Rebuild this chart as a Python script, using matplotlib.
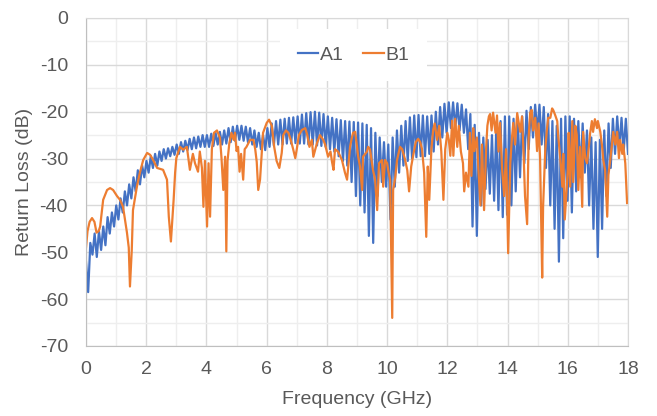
import numpy as np
import matplotlib
matplotlib.use("Agg")
import matplotlib.pyplot as plt
from matplotlib.ticker import MultipleLocator

# A1 : sommets et creux de l'ondulation, 7 par GHz
a1_peaks = [
    -52, -48, -46, -45.5, -44.5, -42.5, -41.5,
    -40, -38.5, -37, -35.5, -34, -32.5, -31.5,
    -30.5, -29.5, -29, -28.5, -28, -27.8, -27.5,
    -27, -26.5, -26.2, -25.8, -25.5, -25.3, -25,
    -25, -24.7, -24.5, -24.3, -24, -23.5, -23.2,
    -23, -23, -23.2, -23.5, -24, -24.5, -25,
    -23.5, -22.5, -22, -21.7, -21.5, -21.3, -21.2,
    -21, -20.6, -20.3, -20.1, -20, -20.2, -20.5,
    -21, -21.3, -21.6, -21.8, -22, -22.1, -22.2,
    -22.3, -22.5, -22.8, -23.5, -24.5, -25.5, -26.5,
    -27, -25.5, -24, -23, -22, -21.2, -20.8,
    -20.7, -20.8, -21, -20.8, -20, -19, -18.3,
    -18, -18, -18.2, -18.5, -19.5, -20.5, -22.8,
    -24.5, -25.5, -26, -25, -23.5, -22, -21,
    -21, -21.5, -22, -21, -19.8, -19, -18.5,
    -18.5, -19, -20.5, -22, -23, -21.5, -21,
    -21, -21.5, -22, -22.5, -24, -25.5, -26.5,
    -26, -24, -22.5, -21.5, -21, -21.3, -21.5,
]
a1_troughs = [
    -58.5, -50.5, -51, -49.5, -48.5, -46, -44.5,
    -43, -41.5, -40, -38.5, -37, -35.5, -34,
    -33, -32, -31.5, -30.5, -30, -29.5, -29.2,
    -29, -28.5, -28.2, -28, -27.8, -27.5, -27.5,
    -27.5, -27.3, -27, -27, -26.8, -26.5, -26.2,
    -26, -26.2, -26.5, -27, -27.5, -28, -28.2,
    -27.5, -27.2, -27, -27, -26.8, -26.8, -26.7,
    -26.8, -26.8, -27, -27, -27.2, -27.3, -27.5,
    -28, -28.5, -29.5, -30.5, -31.5, -35, -38,
    -40, -41.5, -46.5, -48, -38, -35, -36,
    -43, -36, -33, -31.5, -30.5, -30, -29.7,
    -29.5, -29.5, -29, -28.5, -27, -25.5, -24.5,
    -23.5, -23.5, -24, -24.5, -28, -44.5, -46.5,
    -40, -36.5, -37.5, -39, -41, -42.5, -42,
    -40, -37, -34, -31, -28, -25.5, -24.5,
    -27, -32, -40, -45, -52, -47, -39,
    -41.5, -37, -34, -33, -40, -45, -51,
    -45, -38, -32, -29, -28, -28.5, -29,
]

# B1 : frequence (GHz) et perte (dB)
b1_freq = [
    0.0, 0.05, 0.12, 0.2, 0.28, 0.35, 0.42, 0.47, 0.57, 0.7, 0.8, 0.9,
    1.03, 1.13, 1.23, 1.36, 1.42, 1.46, 1.52, 1.56, 1.69, 1.79, 1.9,
    2.03, 2.13, 2.23, 2.36, 2.56, 2.69, 2.75, 2.82, 2.91, 2.96,
    3.0, 3.12, 3.23, 3.35, 3.45, 3.55, 3.62, 3.72, 3.78, 3.85, 3.9, 3.95,
    4.02, 4.07, 4.12, 4.18, 4.25, 4.35, 4.45, 4.5, 4.56, 4.62, 4.66, 4.7,
    4.76, 4.83, 4.9, 4.95, 5.0, 5.05, 5.1, 5.15, 5.22, 5.27, 5.33, 5.45,
    5.56, 5.62, 5.67, 5.72, 5.78, 5.83, 5.88, 6.0, 6.08, 6.17, 6.25,
    6.33, 6.42, 6.5, 6.55, 6.64, 6.72, 6.8, 6.88, 6.95, 7.0, 7.07, 7.17,
    7.28, 7.35, 7.42, 7.5, 7.55, 7.67, 7.77, 7.88, 7.94, 8.04, 8.12,
    8.17, 8.22, 8.27, 8.37, 8.5, 8.6, 8.67, 8.77, 8.82, 8.87, 8.94,
    9.04, 9.1, 9.17, 9.2, 9.33, 9.37, 9.43, 9.53, 9.6, 9.67, 9.73, 9.83,
    9.87, 9.93, 10.0, 10.05, 10.1, 10.17, 10.2, 10.27, 10.33, 10.43,
    10.5, 10.6, 10.67, 10.73, 10.8, 10.87, 10.95, 11.03, 11.1, 11.16,
    11.23, 11.3, 11.35, 11.4, 11.47, 11.53, 11.58, 11.66, 11.73, 11.8,
    11.87, 11.93, 12.0, 12.05, 12.1, 12.16, 12.2, 12.26, 12.33, 12.38,
    12.45, 12.52, 12.56, 12.62, 12.7, 12.75, 12.8, 12.86, 12.9, 12.98,
    13.03, 13.1, 13.15, 13.22, 13.29, 13.33, 13.38, 13.42, 13.47, 13.52,
    13.6, 13.65, 13.7, 13.75, 13.82, 13.89, 13.95, 14.02, 14.09, 14.14,
    14.19, 14.25, 14.32, 14.42, 14.48, 14.53, 14.58, 14.65, 14.7, 14.75,
    14.8, 14.85, 14.92, 14.98, 15.03, 15.08, 15.15, 15.18, 15.25, 15.3,
    15.35, 15.42, 15.48, 15.52, 15.58, 15.65, 15.68, 15.75, 15.82, 15.85,
    15.9, 16.0, 16.03, 16.08, 16.15, 16.18, 16.25, 16.3, 16.35, 16.41,
    16.48, 16.51, 16.58, 16.64, 16.7, 16.74, 16.8, 16.84, 16.9, 16.97,
    17.0, 17.08, 17.14, 17.18, 17.24, 17.31, 17.35, 17.41, 17.48, 17.51,
    17.58, 17.64, 17.7, 17.74, 17.81, 17.84, 17.91, 17.97,
]
b1_db = [
    -49, -45.5, -43.5, -42.7, -43.5, -45.8, -45.5, -44.5, -38.8, -36.7, -36.3, -36.7,
    -38, -38.8, -40.3, -45.8, -49, -57.3, -49.5, -41, -36, -33, -30.3,
    -28.8, -29.2, -30.3, -32, -32.4, -34.5, -42.4, -47.7, -38.8, -33,
    -29.9, -27.5, -28.1, -27.5, -32.4, -29, -31, -32.8, -28.5, -32, -40.3, -30.5,
    -44.5, -31, -42.4, -28, -24.5, -24, -25.6, -29.9, -36.7, -29.6, -49.8, -30.5,
    -26.7, -24.5, -26, -24.5, -28.4, -27.5, -32.8, -29, -34.5, -28, -27.5, -26,
    -26, -28, -30.7, -36.7, -34.5, -29.6, -24.5, -22.4, -21.7, -23, -27.5,
    -30.5, -32, -28.8, -25, -24, -24.5, -26, -28, -29.9, -28, -25, -23.9,
    -23.5, -25, -27.5, -26, -29.6, -26.7, -25, -26, -27, -29.6, -28.5,
    -30.7, -32.4, -28, -28.5, -30.3, -33, -34.5, -27.5, -25.8, -24.5, -24.3,
    -29.6, -31.7, -36.7, -29.6, -28.5, -27.5, -28, -32.4, -34.5, -41, -31, -30.3,
    -36, -30.3, -31, -33, -34.5, -64, -36.7, -34, -30.3, -27.5,
    -28, -30.3, -32.5, -37, -31.7, -29.2, -26.5, -25.8, -26.5, -28,
    -33, -46.7, -31.7, -38.8, -28, -23.9, -22.5, -26, -23, -28.5,
    -38.8, -28, -24.5, -26, -29.4, -21.9, -29.4, -21.5, -27.5, -23,
    -28.5, -31, -37, -33, -36, -24.5, -33.7, -23.5, -28.4, -25.5,
    -32, -40, -27, -41, -27.5, -23, -21, -20.5, -24, -20.2,
    -24.5, -20.8, -28.5, -22.4, -32.4, -38, -28, -50.2, -31, -26,
    -22.4, -27, -20.3, -24.3, -21, -28.5, -38, -44, -25.5, -20.3,
    -19.6, -24, -21.3, -28.4, -22.5, -29.9, -55.4, -40.3, -28.4, -24.3,
    -21.3, -21.3, -19.3, -19.7, -20.7, -22, -25, -29.9, -36, -29,
    -43, -32.6, -24.5, -36, -22, -35, -23, -25, -36.7, -27.5,
    -40.3, -24.3, -29.9, -31, -27.5, -24.7, -22, -24.3, -21.6, -23.5,
    -22, -24.3, -27.4, -30.3, -32.5, -42.4, -33.5, -30.3, -26, -24.3,
    -27, -24.3, -29.9, -26, -29, -27, -31, -39.5,
]

x_ticks = [0, 2, 4, 6, 8, 10, 12, 14, 16, 18]
y_ticks = [0, -10, -20, -30, -40, -50, -60, -70]

BLUE = "#4472C4"
ORANGE = "#ED7D31"
GREY_TEXT = "#595959"


def build_a1():
    # on remet sommets et creux dans l'ordre sur la grille de frequence
    n = 2 * len(a1_peaks)
    values = np.empty(n)
    values[0::2] = a1_peaks
    values[1::2] = a1_troughs
    freq = np.linspace(0, 18, n)
    return freq, values


def main():
    plt.rcParams["font.family"] = ["Liberation Sans", "DejaVu Sans"]
    plt.rcParams["axes.unicode_minus"] = False

    fig = plt.figure(figsize=(6.57, 4.16), dpi=100)
    ax = fig.add_axes([86 / 657, 1 - 346 / 416, 542 / 657, 328 / 416])

    a1_freq, a1_db = build_a1()
    ax.plot(a1_freq, a1_db, color=BLUE, linewidth=1.6, label="A1")
    ax.plot(b1_freq, b1_db, color=ORANGE, linewidth=1.6, label="B1")

    ax.set_xlim(0, 18)
    ax.set_ylim(-70, 0)
    ax.set_xticks(x_ticks)
    ax.set_yticks(y_ticks)
    ax.xaxis.set_minor_locator(MultipleLocator(1))
    ax.yaxis.set_minor_locator(MultipleLocator(5))

    # grille facon Excel
    ax.grid(True, which="major", color="#D9D9D9", linewidth=1.0)
    ax.grid(True, which="minor", color="#EEEEEE", linewidth=1.0)
    ax.set_axisbelow(True)

    ax.tick_params(which="both", length=0, labelsize=14, labelcolor=GREY_TEXT)
    ax.tick_params(axis="x", pad=11)
    ax.tick_params(axis="y", pad=13)

    for side in ["top", "right"]:
        ax.spines[side].set_color("#D9D9D9")
    for side in ["left", "bottom"]:
        ax.spines[side].set_color("#BFBFBF")

    ax.set_xlabel("Frequency (GHz)", fontsize=14, color=GREY_TEXT)
    ax.set_ylabel("Return Loss (dB)", fontsize=14, color=GREY_TEXT)
    ax.xaxis.set_label_coords(0.5, -0.138)
    ax.yaxis.set_label_coords(-0.098, 0.5)

    leg = ax.legend(loc="center", bbox_to_anchor=(0.494, 0.887), ncol=2,
                    fontsize=14, frameon=True, fancybox=False,
                    handlelength=1.05, handletextpad=0.1, columnspacing=1.0,
                    borderpad=0.9, labelcolor=GREY_TEXT)
    leg.get_frame().set_facecolor("white")
    leg.get_frame().set_edgecolor("none")
    leg.get_frame().set_alpha(1)

    fig.savefig("out.png", dpi=100)


if __name__ == "__main__":
    main()
